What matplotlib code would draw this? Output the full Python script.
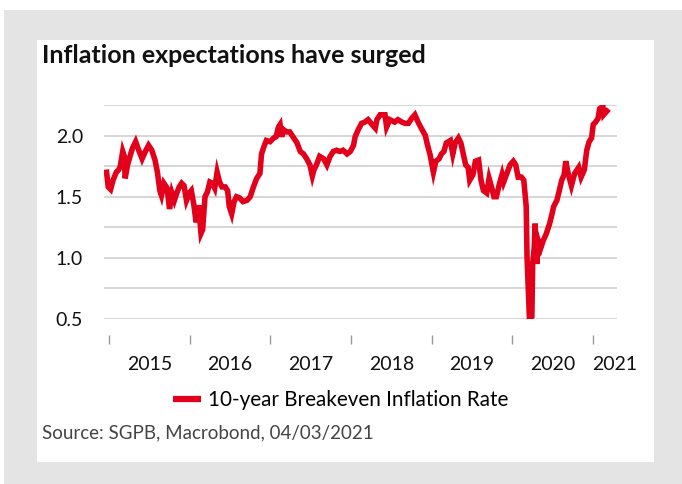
import matplotlib.pyplot as plt
from matplotlib.patches import Rectangle
import numpy as np

plt.rcParams['font.family'] = ['Lato', 'DejaVu Sans']

# 10-year breakeven inflation, x in decimal years
years = [2014.97, 2014.99, 2015.02, 2015.05, 2015.09, 2015.12, 2015.14, 2015.17, 2015.19, 2015.20,
         2015.23, 2015.26, 2015.29, 2015.33, 2015.36, 2015.41, 2015.45, 2015.49, 2015.53, 2015.57,
         2015.60, 2015.63, 2015.65, 2015.68, 2015.72, 2015.75, 2015.78, 2015.81, 2015.84, 2015.87,
         2015.90, 2015.93, 2015.96, 2015.995, 2016.02, 2016.05, 2016.08, 2016.11, 2016.14, 2016.16,
         2016.19, 2016.22, 2016.25, 2016.28, 2016.31, 2016.34, 2016.37, 2016.40, 2016.44, 2016.47,
         2016.49, 2016.52, 2016.55, 2016.58, 2016.62, 2016.66, 2016.71, 2016.75, 2016.79, 2016.83,
         2016.87, 2016.89, 2016.92, 2016.95, 2016.995, 2017.04, 2017.07, 2017.10, 2017.12, 2017.14,
         2017.16, 2017.20, 2017.24, 2017.29, 2017.33, 2017.37, 2017.41, 2017.45, 2017.49, 2017.52,
         2017.54, 2017.57, 2017.61, 2017.66, 2017.70, 2017.74, 2017.78, 2017.82, 2017.86, 2017.90,
         2017.95, 2017.99, 2018.03, 2018.05, 2018.09, 2018.13, 2018.17, 2018.21, 2018.26, 2018.30,
         2018.32, 2018.36, 2018.42, 2018.44, 2018.48, 2018.54, 2018.58, 2018.63, 2018.67, 2018.71,
         2018.75, 2018.79, 2018.83, 2018.87, 2018.92, 2018.94, 2018.98, 2019.02, 2019.05, 2019.09,
         2019.12, 2019.15, 2019.18, 2019.23, 2019.26, 2019.29, 2019.33, 2019.36, 2019.39, 2019.42,
         2019.45, 2019.47, 2019.51, 2019.54, 2019.58, 2019.61, 2019.64, 2019.68, 2019.71, 2019.74,
         2019.77, 2019.80, 2019.84, 2019.87, 2019.89, 2019.93, 2019.97, 2020.01, 2020.04, 2020.07,
         2020.11, 2020.14, 2020.17, 2020.18, 2020.21, 2020.24, 2020.25, 2020.27, 2020.28, 2020.30,
         2020.32, 2020.35, 2020.38, 2020.42, 2020.46, 2020.49, 2020.51, 2020.55, 2020.58, 2020.61,
         2020.64, 2020.66, 2020.69, 2020.73, 2020.77, 2020.82, 2020.85, 2020.89, 2020.92, 2020.95,
         2020.98, 2021.00, 2021.03, 2021.06, 2021.08, 2021.12, 2021.13, 2021.17]
rate = [1.70, 1.58, 1.56, 1.635, 1.70, 1.72, 1.75, 1.87, 1.83, 1.65,
        1.76, 1.83, 1.895, 1.95, 1.895, 1.81, 1.87, 1.92, 1.88, 1.80,
        1.70, 1.55, 1.51, 1.61, 1.57, 1.40, 1.53, 1.47, 1.53, 1.58,
        1.61, 1.59, 1.47, 1.53, 1.55, 1.44, 1.29, 1.43, 1.20, 1.23,
        1.50, 1.54, 1.62, 1.61, 1.57, 1.70, 1.62, 1.58, 1.58, 1.55,
        1.42, 1.36, 1.46, 1.50, 1.49, 1.46, 1.47, 1.50, 1.58, 1.65,
        1.69, 1.85, 1.91, 1.96, 1.95, 1.98, 1.99, 2.07, 2.09, 1.99,
        2.05, 2.03, 2.03, 1.98, 1.94, 1.87, 1.85, 1.81, 1.76, 1.67,
        1.72, 1.76, 1.83, 1.81, 1.76, 1.83, 1.87, 1.88, 1.87, 1.88,
        1.85, 1.87, 1.92, 1.99, 2.05, 2.10, 2.11, 2.13, 2.09, 2.06,
        2.13, 2.17, 2.17, 2.07, 2.13, 2.11, 2.13, 2.11, 2.10, 2.10,
        2.14, 2.17, 2.11, 2.06, 2.00, 1.94, 1.84, 1.70, 1.79, 1.81,
        1.85, 1.87, 1.94, 1.96, 1.85, 1.94, 1.98, 1.94, 1.85, 1.76,
        1.74, 1.635, 1.68, 1.79, 1.80, 1.635, 1.55, 1.53, 1.65, 1.58,
        1.50, 1.50, 1.61, 1.68, 1.62, 1.69, 1.76, 1.79, 1.76, 1.66,
        1.66, 1.635, 1.42, 1.01, 0.50, 0.52, 0.95, 1.09, 1.28, 0.95,
        1.14, 1.08, 1.14, 1.20, 1.28, 1.36, 1.42, 1.47, 1.55, 1.635,
        1.68, 1.79, 1.69, 1.59, 1.69, 1.74, 1.66, 1.72, 1.88, 1.95,
        1.98, 2.09, 2.11, 2.14, 2.22, 2.24, 2.17, 2.20]

year_ticks = [2015, 2016, 2017, 2018, 2019, 2020, 2021]
year_label_pos = [2015.5, 2016.5, 2017.5, 2018.5, 2019.5, 2020.5, 2021.27]
year_labels = ['2015', '2016', '2017', '2018', '2019', '2020', '2021']
y_grid = [0.5, 0.75, 1.0, 1.25, 1.5, 1.75, 2.0, 2.25]
y_labels = ['0.5', '', '1.0', '', '1.5', '', '2.0', '']

W, H = 682, 484
fig = plt.figure(figsize=(W / 100, H / 100), dpi=100)
fig.patch.set_facecolor('white')
fig.patches.append(Rectangle((4 / W, 0), 1, 1 - 10 / H, transform=fig.transFigure,
                             facecolor='#e4e4e4', edgecolor='none', zorder=-2))
fig.patches.append(Rectangle((37 / W, 1 - 462 / H), (654 - 37) / W, (462 - 40) / H,
                             transform=fig.transFigure, facecolor='white', edgecolor='none', zorder=-1))

ax = fig.add_axes([104 / W, 1 - 319 / H, (617 - 104) / W, (319 - 105) / H])
ax.set_facecolor('none')
ax.plot(years, rate, color='#e3001b', lw=4.0, solid_joinstyle='miter',
        label='10-year Breakeven Inflation Rate', zorder=3)

ax.set_xlim(2014.938, 2021.295)
ax.set_ylim(0.5, 2.25)
ax.set_yticks(y_grid)
ax.set_yticklabels(y_labels)
ax.grid(axis='y', color='#d3d3d3', lw=1.3)
ax.tick_params(axis='y', length=0, pad=15, labelsize=14, labelcolor='#111111')

ax.set_xticks(year_ticks)
ax.set_xticklabels([''] * len(year_ticks))
ax.set_xticks(year_label_pos, minor=True)
ax.set_xticklabels(year_labels, minor=True)
ax.tick_params(axis='x', which='major', length=6.5, width=1, color='#999999')
ax.tick_params(axis='x', which='minor', length=0, pad=15, labelsize=14, labelcolor='#111111')
ax.spines['bottom'].set_position(('outward', 11.5))
for s in ax.spines.values():
    s.set_visible(False)

fig.text(42 / W, 1 - 63 / H, 'Inflation expectations have surged', fontsize=18,
         fontweight='bold', color='#111111', va='baseline', ha='left')

leg = ax.legend(loc='center', bbox_to_anchor=(341 / W, 1 - 400 / H),
                bbox_transform=fig.transFigure, frameon=False, fontsize=14.9,
                handlelength=1.35, handletextpad=0.34)
leg.get_lines()[0].set_linewidth(4.5)
leg.get_lines()[0].set_solid_capstyle('butt')

fig.text(42 / W, 1 - 433 / H, 'Source: SGPB, Macrobond, 04/03/2021', fontsize=13.5,
         color='#444444', va='center', ha='left')

fig.savefig('out.png', dpi=100)
